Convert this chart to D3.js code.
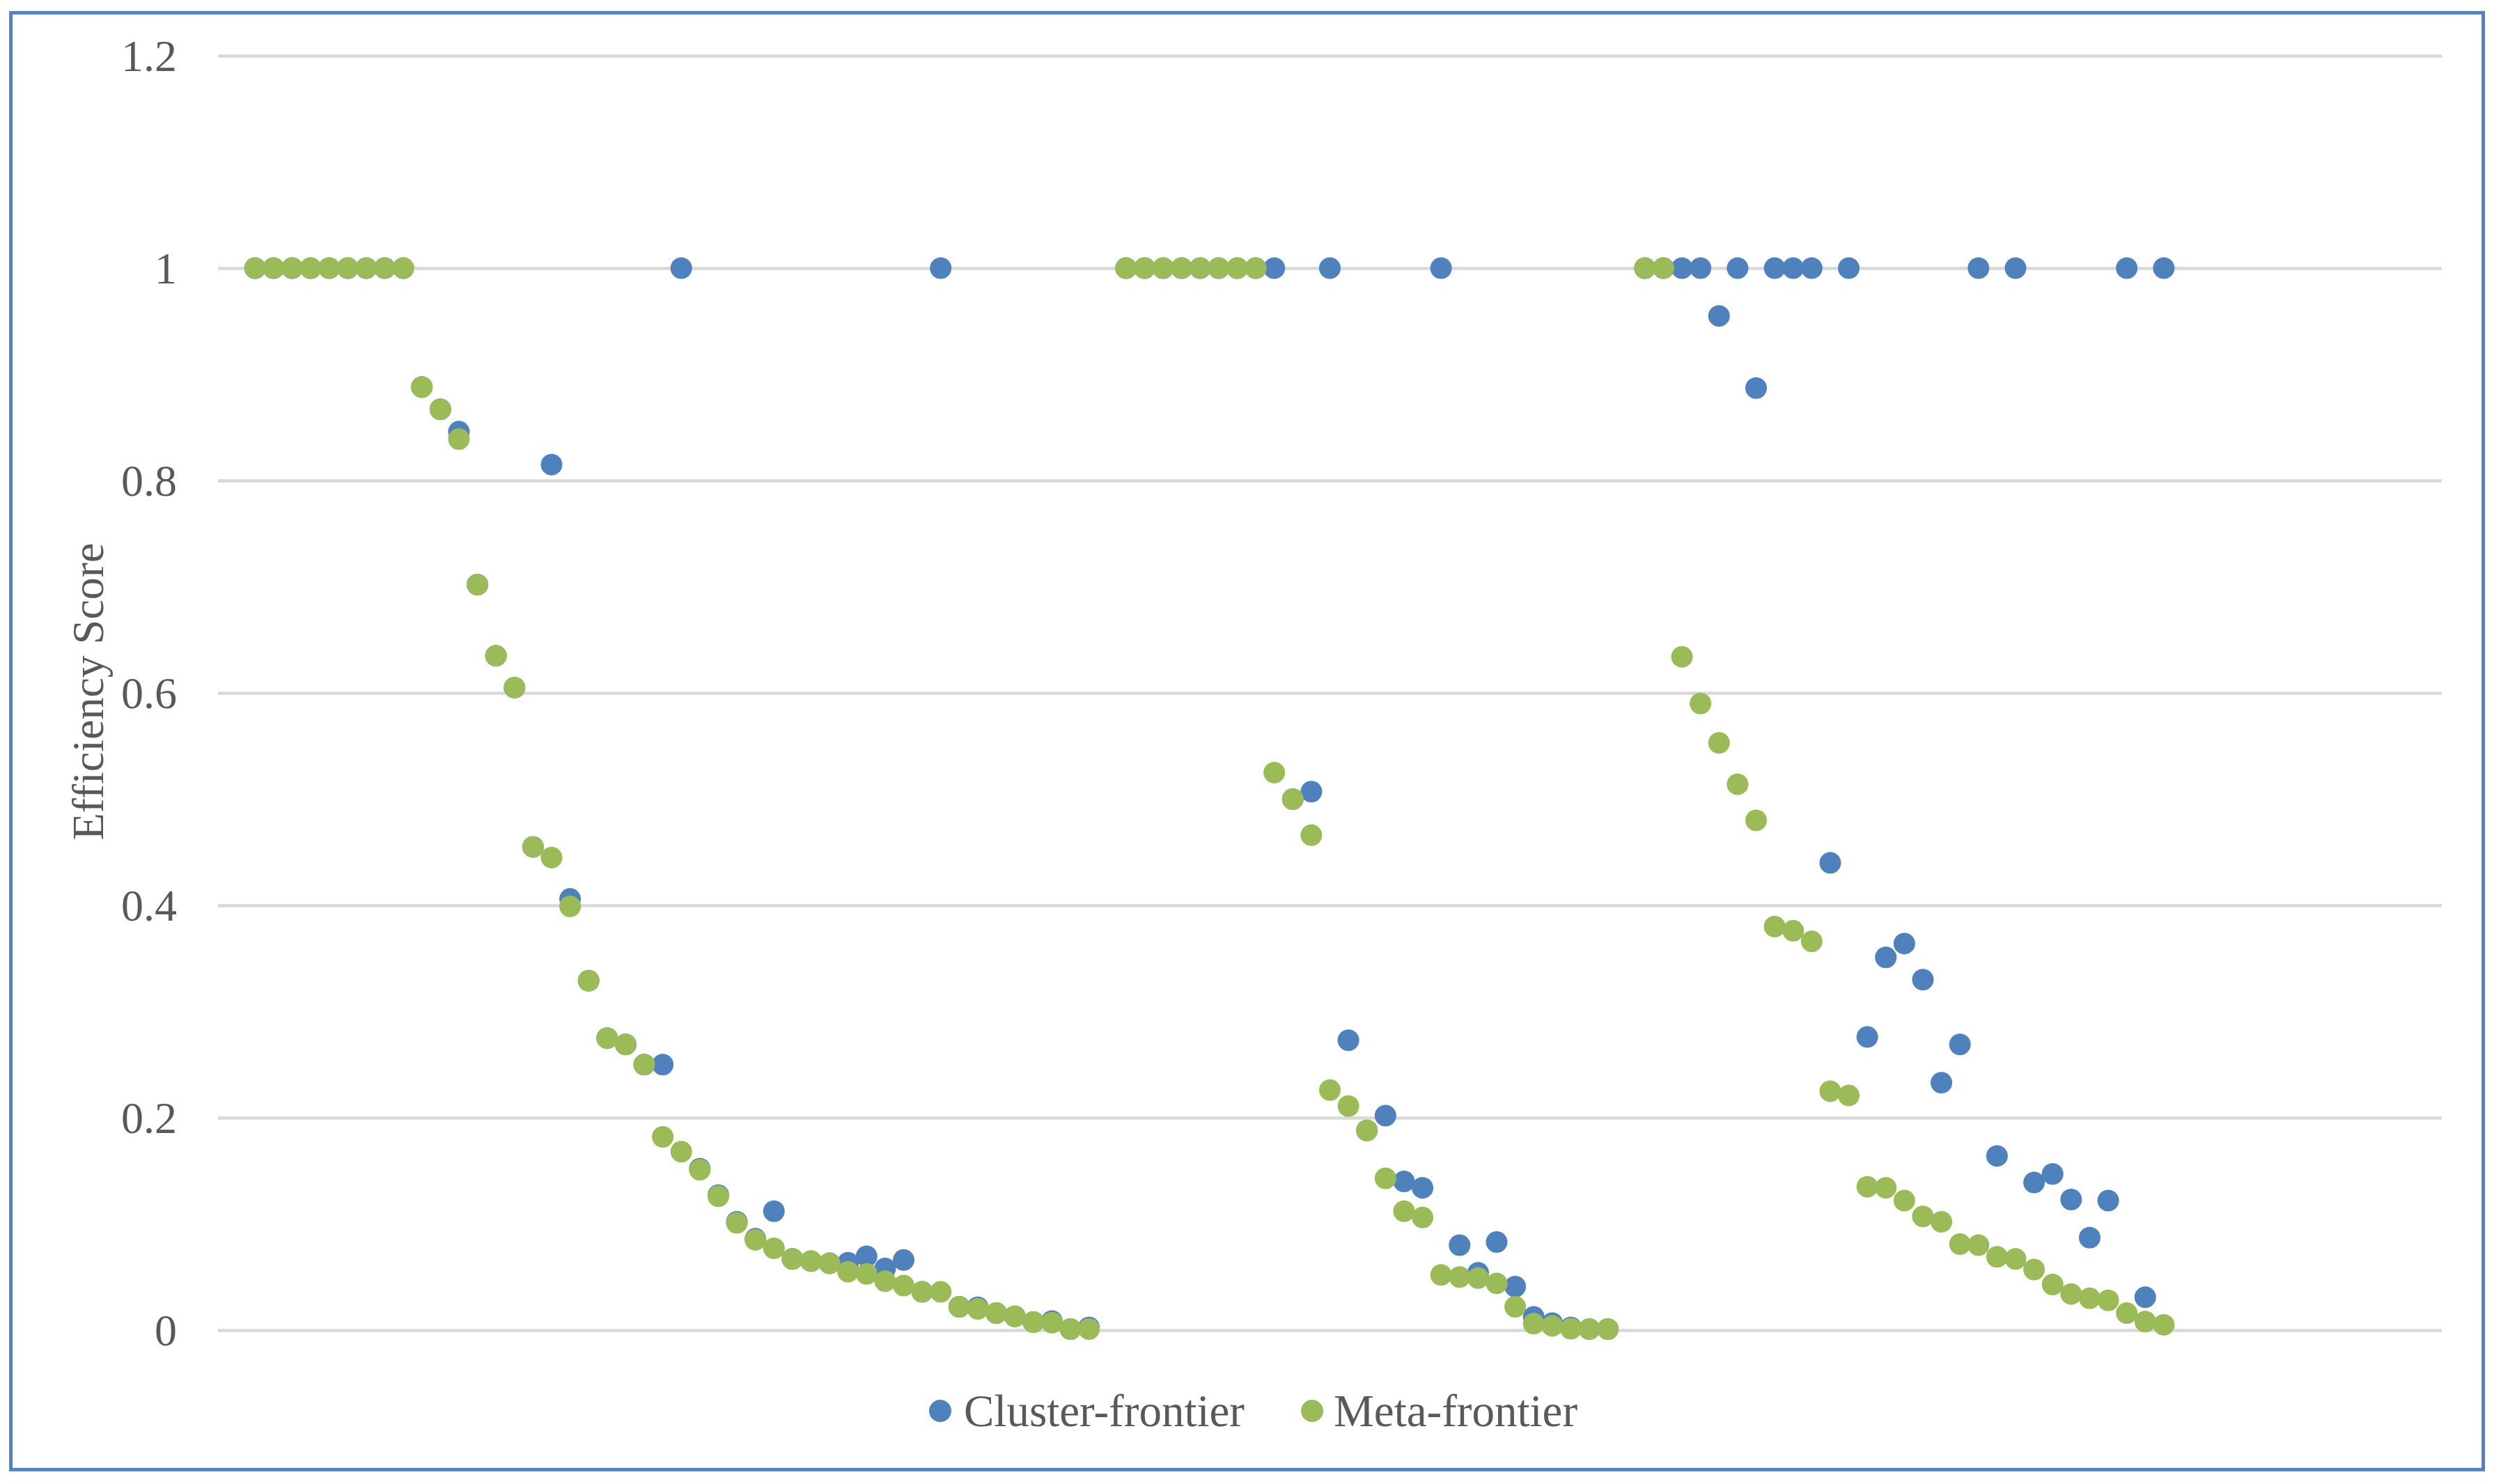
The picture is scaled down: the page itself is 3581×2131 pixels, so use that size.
<!DOCTYPE html>
<html>
<head>
<meta charset="utf-8">
<script src="https://cdn.jsdelivr.net/npm/d3@7"></script>
<style>
  html, body { margin: 0; padding: 0; background: #ffffff; }
  svg { display: block; }
  text { font-family: "Liberation Serif", "Times New Roman", serif; fill: #595959; }
</style>
</head>
<body>
<svg id="chart" width="3581" height="2131"></svg>
<script>
// ---- data (index = DMU position, null = gap between groups) ----
const seriesNames = ["Cluster-frontier", "Meta-frontier"];
const yTicks = [0, 0.2, 0.4, 0.6, 0.8, 1, 1.2];
const yTickLabels = ["0", "0.2", "0.4", "0.6", "0.8", "1", "1.2"];

const clusterFrontier = [
  // group 1 (0-45)
  1, 1, 1, 1, 1, 1, 1, 1, 1, 0.888,
  0.867, 0.846, 0.702, 0.635, 0.605, 0.455, 0.815, 0.406, 0.329, 0.275,
  0.269, 0.250, 0.250, 1, 0.152, 0.127, 0.102, 0.086, 0.112, 0.067,
  0.065, 0.063, 0.0635, 0.0695, 0.058, 0.066, 0.036, 1, 0.022, 0.0215,
  0.016, 0.013, 0.0075, 0.0085, 0.001, 0.0025,
  null,
  // group 2 (47-73)
  1, 1, 1, 1, 1, 1, 1, 1, 1, 0.500,
  0.507, 1, 0.273, 0.188, 0.202, 0.140, 0.134, 1, 0.080, 0.054,
  0.083, 0.041, 0.0125, 0.0065, 0.0025, 0.001, 0.001,
  null,
  // group 3 (75-103)
  1, 1, 1, 1, 0.955, 1, 0.887, 1, 1, 1,
  0.440, 1, 0.276, 0.351, 0.364, 0.330, 0.233, 0.269, 1, 0.164,
  1, 0.139, 0.147, 0.123, 0.087, 0.122, 1, 0.031, 1
];

const metaFrontier = [
  // group 1
  1, 1, 1, 1, 1, 1, 1, 1, 1, 0.888,
  0.867, 0.839, 0.702, 0.635, 0.605, 0.455, 0.445, 0.399, 0.329, 0.275,
  0.269, 0.250, 0.182, 0.168, 0.151, 0.126, 0.101, 0.085, 0.077, 0.067,
  0.065, 0.063, 0.055, 0.053, 0.046, 0.042, 0.036, 0.036, 0.022, 0.020,
  0.016, 0.013, 0.0075, 0.007, 0.001, 0.001,
  null,
  // group 2
  1, 1, 1, 1, 1, 1, 1, 1, 0.525, 0.500,
  0.466, 0.226, 0.211, 0.188, 0.143, 0.112, 0.106, 0.052, 0.050, 0.049,
  0.044, 0.022, 0.006, 0.004, 0.0013, 0.001, 0.001,
  null,
  // group 3
  1, 1, 0.634, 0.590, 0.553, 0.514, 0.480, 0.380, 0.376, 0.366,
  0.225, 0.221, 0.135, 0.134, 0.122, 0.107, 0.102, 0.081, 0.080, 0.069,
  0.067, 0.057, 0.043, 0.034, 0.030, 0.028, 0.016, 0.008, 0.005
];

const colors = ["#4F81BD", "#9BBB59"];

// ---- layout ----
const svg = d3.select("#chart");
const W = 3581, H = 2131;
const plot = { left: 313, right: 3506, top: 80, bottom: 1910 };

svg.append("rect").attr("x", 0).attr("y", 0).attr("width", W).attr("height", H).attr("fill", "#ffffff");
svg.append("rect")
  .attr("x", 15.6).attr("y", 18.3)
  .attr("width", 3550).attr("height", 2092)
  .attr("fill", "none").attr("stroke", "#4F81BD").attr("stroke-width", 5);

const x = d3.scaleLinear().domain([-1, 119]).range([plot.left, plot.right]);
const y = d3.scaleLinear().domain([0, 1.2]).range([plot.bottom, plot.top]);

// gridlines via axis
const grid = svg.append("g")
  .attr("transform", `translate(${plot.left},0)`)
  .call(d3.axisLeft(y).tickValues(yTicks).tickSize(-(plot.right - plot.left)).tickFormat(""));
grid.select(".domain").remove();
grid.selectAll("line").attr("stroke", "#D9D9D9").attr("stroke-width", 4.5);

// tick labels via axis
const yAxis = svg.append("g")
  .attr("transform", `translate(254,0)`)
  .call(d3.axisLeft(y).tickValues(yTicks).tickSize(0).tickPadding(0)
        .tickFormat((d, i) => yTickLabels[i]));
yAxis.select(".domain").remove();
yAxis.selectAll("text")
  .attr("font-family", '"Liberation Serif", "Times New Roman", serif')
  .attr("font-size", 64)
  .attr("fill", "#595959")
  .attr("dy", "0.34em");

// axis title
svg.append("text")
  .attr("transform", `translate(126,993) rotate(-90)`)
  .attr("text-anchor", "middle")
  .attr("dy", "0.34em")
  .attr("font-size", 64)
  .text("Efficiency Score");

// points
const seriesData = [clusterFrontier, metaFrontier];
seriesData.forEach((vals, si) => {
  const pts = vals.map((v, i) => ({ i: i + 1, v })).filter(d => d.v !== null);
  svg.append("g").selectAll("circle")
    .data(pts).join("circle")
    .attr("cx", d => x(d.i))
    .attr("cy", d => y(d.v))
    .attr("r", 15.5)
    .attr("fill", colors[si]);
});

// legend
const legendItems = [
  { name: seriesNames[0], color: colors[0], cx: 1350, tx: 1384 },
  { name: seriesNames[1], color: colors[1], cx: 1884, tx: 1915 }
];
const lg = svg.append("g");
legendItems.forEach(d => {
  lg.append("circle").attr("cx", d.cx).attr("cy", 2026).attr("r", 16).attr("fill", d.color);
  lg.append("text").attr("x", d.tx).attr("y", 2026).attr("dy", "0.34em")
    .attr("font-size", 65).text(d.name);
});
</script>
</body>
</html>
